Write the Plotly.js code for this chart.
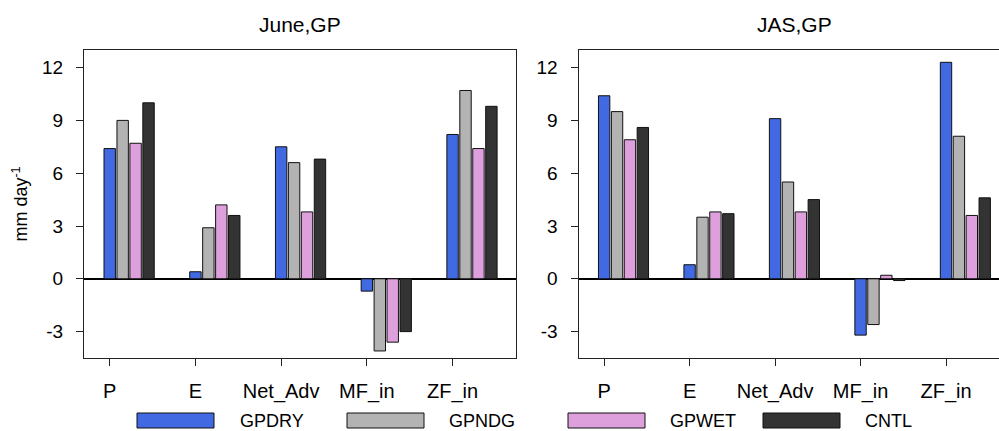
<!DOCTYPE html>
<html>
<head>
<meta charset="utf-8">
<script src="https://cdn.plot.ly/plotly-3.0.1.min.js"></script>
<style>html,body{margin:0;padding:0;background:#fff;}#chart{width:999px;height:431px;}</style>
</head>
<body>
<div id="chart"></div>
<script>
// ---- data ----
const categories = ["P", "E", "Net_Adv", "MF_in", "ZF_in"];
const seriesNames = ["GPDRY", "GPNDG", "GPWET", "CNTL"];
const seriesColors = ["#4169E1", "#B3B3B3", "#DDA0DD", "#333333"];
const panelTitles = ["June,GP", "JAS,GP"];
const yTickVals = [-3, 0, 3, 6, 9, 12];
const yTickText = ["-3", "0", "3", "6", "9", "12"];

// June, GP
const juneGPDRY = [7.4, 0.4, 7.5, -0.7, 8.2];
const juneGPNDG = [9.0, 2.9, 6.6, -4.1, 10.7];
const juneGPWET = [7.7, 4.2, 3.8, -3.6, 7.4];
const juneCNTL  = [10.0, 3.6, 6.8, -3.0, 9.8];

// JAS, GP
const jasGPDRY = [10.4, 0.8, 9.1, -3.2, 12.3];
const jasGPNDG = [9.5, 3.5, 5.5, -2.6, 8.1];
const jasGPWET = [7.9, 3.8, 3.8, 0.2, 3.6];
const jasCNTL  = [8.6, 3.7, 4.5, -0.1, 4.6];

const panels = [
  [juneGPDRY, juneGPNDG, juneGPWET, juneCNTL],
  [jasGPDRY, jasGPNDG, jasGPWET, jasCNTL]
];

// ---- traces ----
const W = 999, H = 431;
const barWidth = 0.133, barStep = 0.151;
const traces = [];
panels.forEach((panel, p) => {
  panel.forEach((vals, i) => {
    traces.push({
      type: "bar",
      x: categories,
      y: vals,
      name: seriesNames[i],
      showlegend: false,
      xaxis: p === 0 ? "x" : "x2",
      yaxis: p === 0 ? "y" : "y2",
      width: barWidth,
      offset: -barWidth / 2 + i * barStep,
      marker: {color: seriesColors[i], line: {color: "#111", width: 1}},
      hoverinfo: "x+y+name"
    });
  });
});

const font = {family: "Liberation Sans, Arial, sans-serif", color: "#000"};

function xAxis(domain, range) {
  return {
    domain: domain, range: range, type: "category",
    showline: true, linecolor: "#222", linewidth: 1, mirror: true,
    ticks: "outside", ticklen: 7, tickcolor: "#222", tickwidth: 1,
    ticklabelstandoff: 8,
    showgrid: false, zeroline: false,
    tickfont: Object.assign({size: 20}, font), fixedrange: true
  };
}
function yAxis(anchor, mirror) {
  return {
    domain: [(H - 358) / H, (H - 50) / H], range: [-4.5, 13], anchor: anchor,
    showline: true, linecolor: "#222", linewidth: 1, mirror: mirror,
    ticks: "outside", ticklen: 7, tickcolor: "#222", tickwidth: 1,
    tickvals: yTickVals, ticktext: yTickText, ticklabelstandoff: 9,
    showgrid: false, zeroline: true, zerolinecolor: "#000", zerolinewidth: 1.5,
    tickfont: Object.assign({size: 19}, font), fixedrange: true
  };
}

const layout = {
  width: W, height: H,
  margin: {l: 0, r: 0, t: 0, b: 0, pad: 0},
  paper_bgcolor: "#fff", plot_bgcolor: "#fff",
  font: font,
  showlegend: false,
  xaxis: xAxis([84 / W, 516 / W], [-0.3, 4.74]),
  yaxis: Object.assign(yAxis("x", true), {
    title: {text: "mm day<sup>-1</sup>", font: Object.assign({size: 18}, font), standoff: 9}
  }),
  xaxis2: Object.assign(xAxis([578.5 / W, 1], [-0.3, 4.62]), {anchor: "y2"}),
  yaxis2: yAxis("x2", false),
  shapes: [],
  annotations: []
};
layout.xaxis.anchor = "y";

// subplot titles
const titleX = [300, 794];
panelTitles.forEach((t, k) => {
  layout.annotations.push({
    text: t, xref: "paper", yref: "paper", x: titleX[k] / W, y: (H - 25) / H,
    xanchor: "center", yanchor: "middle", showarrow: false,
    font: Object.assign({size: 21}, font)
  });
});

// legend (drawn as wide swatches like the original)
const legRectX = [137, 347, 568, 763];
const legRectW = 77;
const legTextX = [238, 447, 668, 863];
seriesNames.forEach((n, i) => {
  layout.shapes.push({
    type: "rect", xref: "paper", yref: "paper",
    x0: legRectX[i] / W, x1: (legRectX[i] + legRectW) / W,
    y0: (H - 428) / H, y1: (H - 413) / H,
    fillcolor: seriesColors[i], line: {color: "#111", width: 1}
  });
  layout.annotations.push({
    text: n, xref: "paper", yref: "paper", x: legTextX[i] / W, y: (H - 420.5) / H,
    xanchor: "left", yanchor: "middle", showarrow: false,
    font: Object.assign({size: 18}, font)
  });
});

Plotly.newPlot("chart", traces, layout, {displayModeBar: false, staticPlot: true});
</script>
</body>
</html>
